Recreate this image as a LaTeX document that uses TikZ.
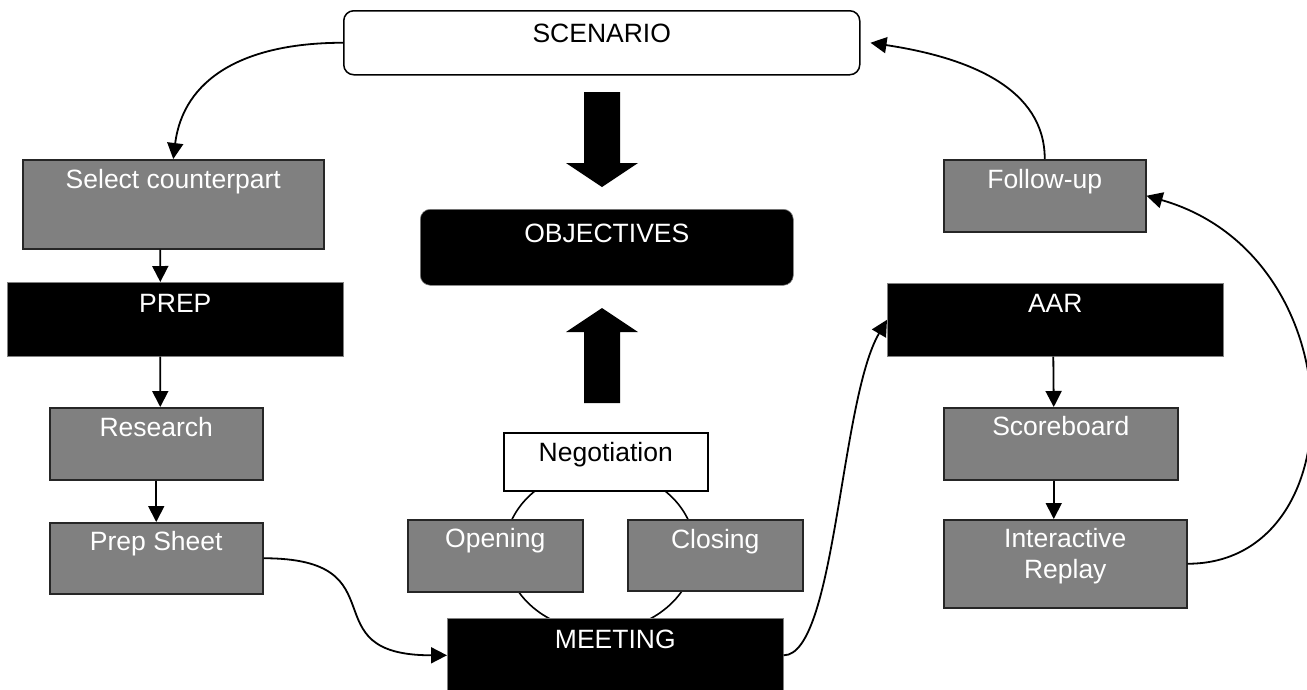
\documentclass[tikz,border=0pt]{standalone}
\usepackage{fontspec}
\setmainfont{Liberation Sans}
\usetikzlibrary{arrows.meta}

\begin{document}
\begin{tikzpicture}[x=1pt,y=-1pt,>={Triangle[length=16pt,width=16pt]},
        font=\fontsize{26.5}{31}\selectfont,
        panel/.style={rectangle,anchor=north west,inner sep=0pt,line width=1.5pt},
        graypanel/.style={panel,draw=black!85,fill=gray,text=white},
        blackpanel/.style={panel,draw=gray,line width=0.6pt,fill=black,text=white},
        whitepanel/.style={panel,draw=black,fill=white,text=black},
        link/.style={->,line width=1.8pt}]
        \path[use as bounding box,fill=white] (0,0) rectangle (1307,689);
        \draw[line width=1.6pt] (600,550) ellipse [x radius=95,y radius=81];
        % top row
        \node[whitepanel,rounded corners=10pt,minimum width=516pt,text height=32pt,text depth=32pt] (scenario) at (343,10) {SCENARIO};
        \node[graypanel,minimum width=301pt,text height=29pt,text depth=60pt] (select) at (22,159) {Select counterpart};
        \node[graypanel,minimum width=202pt,text height=29pt,text depth=43pt] (followup) at (943,159) {Follow-up};
        \node[blackpanel,rounded corners=10pt,minimum width=373pt,text height=33pt,text depth=43pt] (objectives) at (420,209) {OBJECTIVES};
        % left column
        \node[blackpanel,minimum width=336pt,text height=30pt,text depth=44pt] (prep) at (7,282) {PREP};
        \node[graypanel,minimum width=213pt,text height=29pt,text depth=43pt] (research) at (49,407) {Research};
        \node[graypanel,minimum width=213pt,text height=28pt,text depth=43pt] (prepsheet) at (49,522) {Prep Sheet};
        % middle
        \node[whitepanel,minimum width=204pt,text height=29pt,text depth=29pt] (negotiation) at (503,432) {Negotiation};
        \node[graypanel,minimum width=175pt,text height=28pt,text depth=44pt] (opening) at (407,519) {Opening};
        \node[graypanel,minimum width=175pt,text height=29pt,text depth=42pt] (closing) at (627,519) {Closing};
        \node[blackpanel,minimum width=336pt,text height=30pt,text depth=44pt] (meeting) at (447,618) {MEETING};
        % right column
        \node[blackpanel,minimum width=336pt,text height=29pt,text depth=44pt] (aar) at (887,283) {AAR};
        \node[graypanel,minimum width=234pt,text height=28pt,text depth=44pt] (scoreboard) at (943,407) {Scoreboard};
        \node[graypanel,minimum width=243pt,text height=28pt,text depth=60pt] (replay) at (943,519) {\begin{tabular}[t]{@{}c@{}}Interactive\\Replay\end{tabular}};
        % block arrows
        \fill (584,92) -- (620,92) -- (620,163) -- (638,163) -- (602,187) -- (566,163) -- (584,163) -- cycle;
        \fill (584,403) -- (620,403) -- (620,332) -- (638,332) -- (602,308) -- (566,332) -- (584,332) -- cycle;
        % connectors
        \draw[link] (scenario.west) .. controls +(-100,0) and +(10,-80) .. (select.north);
        \draw[link] ([xshift=-13pt]select.south) -- ([xshift=-15pt]prep.north);
        \draw[link] ([xshift=-15pt]prep.south) -- ([xshift=4pt]research.north);
        \draw[link] (research.south) -- (prepsheet.north);
        \draw[link] (prepsheet.east) .. controls +(140,0) and +(-140,0) .. (meeting.west);
        \draw[link] (meeting.east) .. controls +(52,0) and +(-47,80) .. (aar.west);
        \draw[link] ([xshift=-2pt]aar.south) -- ([xshift=-7pt]scoreboard.north);
        \draw[link] ([xshift=-7pt]scoreboard.south) -- ([xshift=-11.5pt]replay.north);
        \draw[link] (replay.east) .. controls +(170,0) and +(210,60) .. (followup.east);
        \draw[link] (followup.north) .. controls +(0,-70) and +(100,15) .. ([xshift=10pt]scenario.east);
    \end{tikzpicture}
\end{document}
